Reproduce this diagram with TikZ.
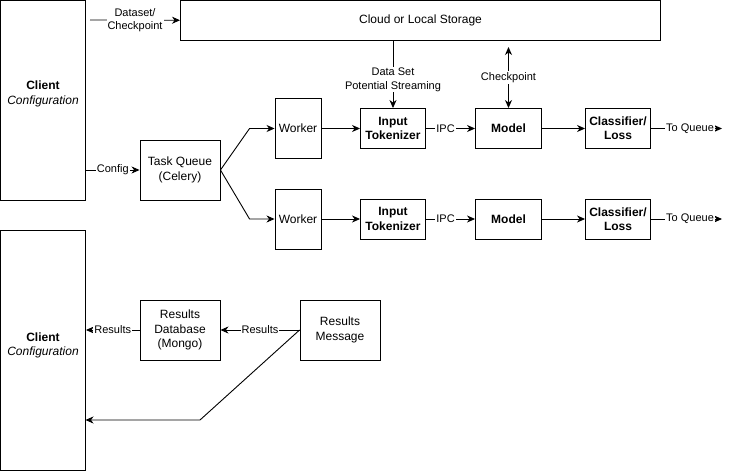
\documentclass[tikz,border=0pt]{standalone}
\usepackage{fontspec}
\setmainfont{Liberation Sans}
\usetikzlibrary{arrows.meta,positioning}
\tikzset{
	box/.style    = {shape=rectangle, draw, align=center, inner sep=0pt,
		font=\fontsize{12}{14.4}\selectfont},
	stage/.style  = {box, minimum width=65pt, minimum height=40pt,
		font=\fontsize{12}{14.4}\selectfont\bfseries},
	client/.style = {box, minimum width=85pt},
	worker/.style = {box, minimum width=46pt, minimum height=60pt},
	store/.style  = {box, minimum width=80pt, minimum height=60pt},
	lbl/.style    = {fill=white, inner sep=1pt, align=center,
		font=\fontsize{11}{13.5}\selectfont}
}

\begin{document}
\begin{tikzpicture}
	[
	x                 = 1pt,
	y                 = -1pt,
	line width        = 0.9pt,
	>                 = {Stealth[length=8pt,width=7pt,inset=2.5pt]}
	]
	\useasboundingbox (0,0) rectangle (734,471);
	
	% clients and storage
	\node [client, minimum height=199.5pt] (client1) at (43,100.25) {\textbf{Client}\\\textit{Configuration}\\[0.5pt]\mbox{}};
	\node [client, minimum height=240pt] (client2) at (43,350) {\textbf{Client}\\\textit{Configuration}\\[-3pt]\mbox{}};
	\node [box, minimum width=480pt, minimum height=39.5pt] (storage) at (420.5,20.25) {Cloud or Local Storage};
	
	% queue and workers
	\node [store] (taskq) at (180,170) {Task Queue\\(Celery)};
	\node [worker] (worker1) at (298,128.5) {Worker};
	\node [worker] (worker2) at (298,219) {Worker};
	
	% first pipeline
	\node [stage] (tok1) at (393,128.5) {Input\\Tokenizer};
	\node [stage, minimum width=66pt] (model1) at (508.5,128.5) {Model};
	\node [stage] (cls1) at (618,128.5) {Classifier/\\Loss};
	% second pipeline
	\node [stage] (tok2) at (393,219) {Input\\Tokenizer};
	\node [stage, minimum width=66pt] (model2) at (508.5,219) {Model};
	\node [stage] (cls2) at (618,219) {Classifier/\\Loss};
	
	% results
	\node [store] (resdb) at (180,330) {Results\\Database\\(Mongo)};
	\node [store] (resmsg) at (340,330) {Results\\Message};
	
	\coordinate (dsout) at (90,20);
	\coordinate (ckpt) at (508.5,47);
	\coordinate (queue1) at (722,128.5);
	\coordinate (queue2) at (722,219);
	\coordinate (bend) at (200,420);
	\coordinate (back) at (85.5,420);
	
	% storage connectors
	\draw [->] (dsout) -- (storage.west) node [lbl, midway] {Dataset/\\Checkpoint};
	\draw [->] (storage.south -| tok1.north) -- (tok1.north) node [lbl, pos=0.58] {Data Set\\Potential Streaming};
	\draw [<->] (ckpt) -- (model1.north) node [lbl, midway] {Checkpoint};
	
	% dispatch
	\draw [->] (client1.east |- taskq.west) -- (taskq.west) node [lbl, midway] {Config};
	\draw [->] (taskq.east) -- ([xshift=-25pt]worker1.west) -- (worker1.west);
	\draw [->] (taskq.east) -- ([xshift=-25pt]worker2.west) -- (worker2.west);
	
	% pipelines
	\draw [->] (worker1.east) -- (tok1.west);
	\draw [->] (tok1.east) -- (model1.west) node [lbl, pos=0.4] {IPC};
	\draw [->] (model1.east) -- (cls1.west);
	\draw [->] (cls1.east) -- (queue1) node [lbl, pos=0.55] {To Queue};
	\draw [->] (worker2.east) -- (tok2.west);
	\draw [->] (tok2.east) -- (model2.west) node [lbl, pos=0.4] {IPC};
	\draw [->] (model2.east) -- (cls2.west);
	\draw [->] (cls2.east) -- (queue2) node [lbl, pos=0.55] {To Queue};
	
	% return path
	\draw [->] (resmsg.west) -- (resdb.east) node [lbl, midway] {Results};
	\draw [->] (resdb.west) -- (client2.east |- resdb.west) node [lbl, midway] {Results};
	\draw [->] (resmsg.west) -- (bend) -- (back);
\end{tikzpicture}
\end{document}
